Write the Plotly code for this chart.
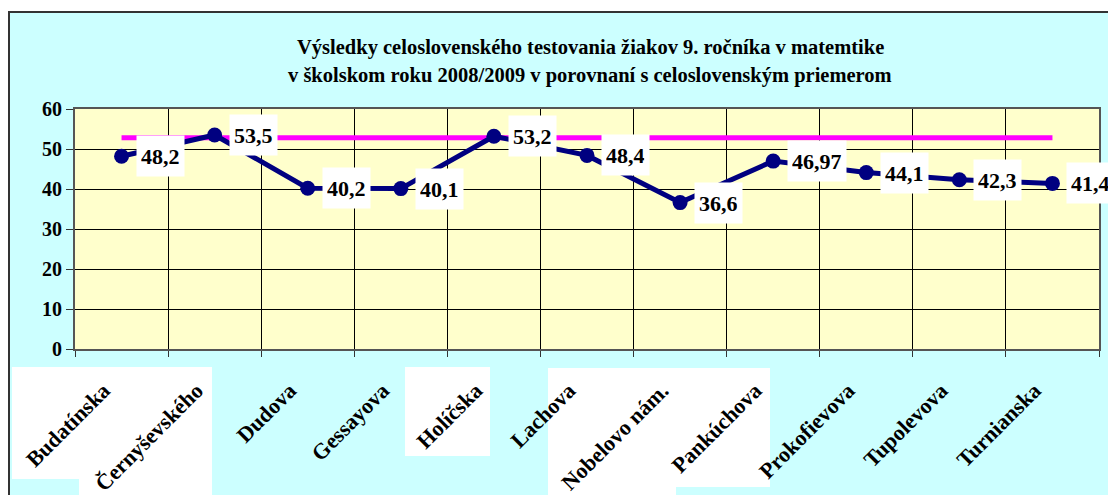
import plotly.graph_objects as go

skoly = ["Budatínska", "Černyševského", "Dudova", "Gessayova", "Holíčska", "Lachova",
         "Nobelovo nám.", "Pankúchova", "Prokofievova", "Tupolevova", "Turnianska"]
vysledky = [48.2, 53.5, 40.2, 40.1, 53.2, 48.4, 36.6, 46.97, 44.1, 42.3, 41.4]
priemer_sr = [52.8, 52.8, 52.8, 52.8, 52.8, 52.8, 52.8, 52.8, 52.8, 52.8, 52.8]
y_ticks = [0, 10, 20, 30, 40, 50, 60]
titulok = ["Výsledky celoslovenského testovania žiakov 9. ročníka v matemtike",
           "v školskom roku 2008/2009 v porovnaní s celoslovenským priemerom"]

font = "Times New Roman, Liberation Serif, serif"
OFF = 8  # the page body margin
W, H = 1108, 487
L, R, T, B = 67, 17, 101, 146


# page pixel -> paper coordinates (frame, title, white label patches)
def px(x):
    return (x - OFF - L) / (W - L - R)


def py(y):
    return (H - B - (y - OFF)) / (H - T - B)


fig = go.Figure()
fig.add_trace(go.Scatter(x=skoly, y=priemer_sr, mode="lines",
                         line=dict(color="#FF00FF", width=5), name="priemer SR"))
fig.add_trace(go.Scatter(x=skoly, y=vysledky, mode="lines+markers",
                         line=dict(color="#000080", width=5),
                         marker=dict(size=15, color="#000080"), name="škola"))

for s, v in zip(skoly, vysledky):
    fig.add_annotation(x=s, y=v, text="<b>" + str(v).replace(".", ",") + "</b>",
                       showarrow=False, xanchor="left", yanchor="middle", xshift=14,
                       bgcolor="white", borderpad=4, height=32,
                       font=dict(family=font, size=22, color="black"))

for i, line in enumerate(titulok):
    fig.add_annotation(xref="paper", yref="paper", x=px(590), y=py(47 + 28 * i),
                       text="<b>" + line + "</b>", showarrow=False,
                       xanchor="center", yanchor="middle",
                       font=dict(family=font, size=20.5, color="black"))

# white patches behind some category labels
patches = [(12, 79, 367, 479), (79, 212, 367, 500), (405, 490, 367, 456),
           (548, 676, 368, 500), (661, 770, 368, 487)]
shapes = []
for x0, x1, y0, y1 in patches:
    shapes.append(dict(type="rect", xref="paper", yref="paper", layer="below",
                       x0=px(x0), x1=px(x1), y0=py(y1), y1=py(y0),
                       fillcolor="white", line=dict(width=0)))
# white margin + black frame of the chart area
shapes.append(dict(type="rect", xref="paper", yref="paper", layer="below",
                   x0=px(0), x1=px(1130), y0=py(11), y1=py(0),
                   fillcolor="white", line=dict(width=0)))
shapes.append(dict(type="rect", xref="paper", yref="paper", layer="below",
                   x0=px(0), x1=px(8), y0=py(520), y1=py(0),
                   fillcolor="white", line=dict(width=0)))
shapes.append(dict(type="rect", xref="paper", yref="paper", layer="above",
                   x0=px(9), x1=px(1140), y0=py(520), y1=py(12),
                   line=dict(color="#333333", width=2)))

tick_font = dict(family=font, size=20, color="black", weight="bold")

fig.update_layout(
    width=W, height=H,
    margin=dict(l=L, r=R, t=T, b=B, autoexpand=False),
    paper_bgcolor="#CCFFFF", plot_bgcolor="#FFFFCC",
    showlegend=False,
    shapes=shapes,
    xaxis=dict(range=[-0.5, len(skoly) - 0.5], tickangle=-45, tickson="boundaries",
               showgrid=True, gridcolor="black",
               gridwidth=1, ticks="outside", ticklen=6, tickcolor="#333333",
               showline=True, linecolor="#555555", linewidth=2, mirror=True,
               ticklabelstandoff=18, ticklabelshift=-18, automargin=False,
               tickfont=dict(family=font, size=22, color="black", weight="bold")),
    yaxis=dict(range=[0, 60], tickvals=y_ticks, showgrid=True, gridcolor="black",
               gridwidth=1, ticks="outside", ticklen=7, tickcolor="#333333",
               showline=True, linecolor="#555555", linewidth=2, mirror=True,
               zeroline=False, automargin=False,
               tickfont=tick_font),
)

fig.write_html("out.html")
